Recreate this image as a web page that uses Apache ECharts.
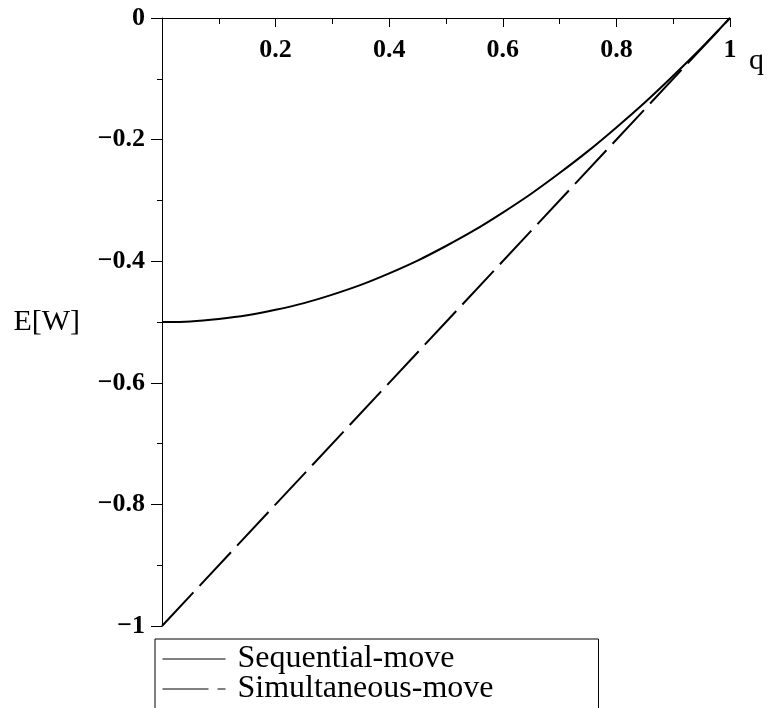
<!DOCTYPE html>
<html>
<head>
<meta charset="utf-8">
<script src="https://cdn.jsdelivr.net/npm/echarts@6/dist/echarts.min.js"></script>
<style>
  html, body { margin: 0; padding: 0; background: #fff; }
  #chart { width: 769px; height: 708px; }
</style>
</head>
<body>
<div id="chart"></div>
<script>
// Expected welfare E[W] against q for the two move orders
const seriesNames = ['Sequential-move', 'Simultaneous-move'];

const qSequential = [0, 0.05, 0.1, 0.15, 0.2, 0.25, 0.3, 0.35, 0.4, 0.45, 0.5,
                     0.55, 0.6, 0.65, 0.7, 0.75, 0.8, 0.85, 0.9, 0.95, 1];
const sequentialMove = [-0.5, -0.499, -0.495, -0.489, -0.48, -0.469, -0.455, -0.439, -0.42, -0.399, -0.375,
                        -0.349, -0.32, -0.289, -0.255, -0.219, -0.18, -0.139, -0.095, -0.049, 0];

const qSimultaneous = [0, 0.5, 1];
const simultaneousMove = [-1, -0.5, 0];

const xTickLabels = ['0.2', '0.4', '0.6', '0.8', '1'];
const yTickLabels = ['0', '-0.2', '-0.4', '-0.6', '-0.8', '-1'];

const SERIF = "'Liberation Serif', 'DejaVu Serif', serif";

const pairs = (xs, ys) => xs.map((x, i) => [x, ys[i]]);
const round1 = v => String(Math.round(v * 10) / 10);

const chart = echarts.init(document.getElementById('chart'));
chart.setOption({
  animation: false,
  backgroundColor: '#fff',
  grid: { left: 162, right: 39, top: 18, bottom: 82 },
  xAxis: {
    type: 'value',
    position: 'top',
    min: 0, max: 1, interval: 0.2,
    axisLine: { show: true, onZero: false, lineStyle: { color: '#000', width: 1 } },
    axisTick: { show: true, inside: true, length: 9, lineStyle: { color: '#000', width: 1 } },
    minorTick: { show: true, splitNumber: 2, length: 6, lineStyle: { color: '#000', width: 1 } },
    axisLabel: {
      inside: true, margin: 19, showMinLabel: false,
      color: '#000', fontFamily: SERIF, fontSize: 26, fontWeight: 'bold',
      formatter: v => (xTickLabels.includes(round1(v)) ? round1(v) : '')
    },
    splitLine: { show: false }
  },
  yAxis: {
    type: 'value',
    min: -1, max: 0, interval: 0.2,
    name: 'E[W]',
    nameLocation: 'middle',
    nameRotate: 0,
    nameGap: 82,
    nameTextStyle: { color: '#000', fontFamily: SERIF, fontSize: 30 },
    axisLine: { show: true, onZero: false, lineStyle: { color: '#000', width: 1 } },
    axisTick: { show: true, length: 11, lineStyle: { color: '#000', width: 1 } },
    minorTick: { show: true, splitNumber: 2, length: 5, lineStyle: { color: '#000', width: 1 } },
    axisLabel: {
      margin: 17,
      color: '#000', fontFamily: SERIF, fontSize: 26, fontWeight: 'bold',
      formatter: v => {
        const s = round1(v);
        return yTickLabels.includes(s) ? s.replace('-', '\u2212') : '';
      }
    },
    splitLine: { show: false }
  },
  legend: {
    orient: 'vertical',
    left: 155, top: 639,
    height: 200,
    padding: [4, 105, 40, 7],
    itemWidth: 63, itemHeight: 30, itemGap: -2,
    borderColor: '#000', borderWidth: 1,
    itemStyle: { opacity: 0 },
    lineStyle: { width: 1 },
    textStyle: { color: '#000', fontFamily: SERIF, fontSize: 32, padding: [0, 0, 0, 7] },
    data: seriesNames
  },
  graphic: [{
    type: 'text',
    left: 749, top: 46,
    style: { text: 'q', fill: '#000', font: "30px 'Liberation Serif', serif" }
  }],
  series: [
    {
      name: seriesNames[0],
      type: 'line',
      data: pairs(qSequential, sequentialMove),
      smooth: 0.3,
      symbol: 'none',
      lineStyle: { color: '#000', width: 2 },
      itemStyle: { color: '#000' }
    },
    {
      name: seriesNames[1],
      type: 'line',
      data: pairs(qSimultaneous, simultaneousMove),
      symbol: 'none',
      lineStyle: { color: '#000', width: 2, type: [46, 9] },
      itemStyle: { color: '#000' }
    }
  ]
});
</script>
</body>
</html>
